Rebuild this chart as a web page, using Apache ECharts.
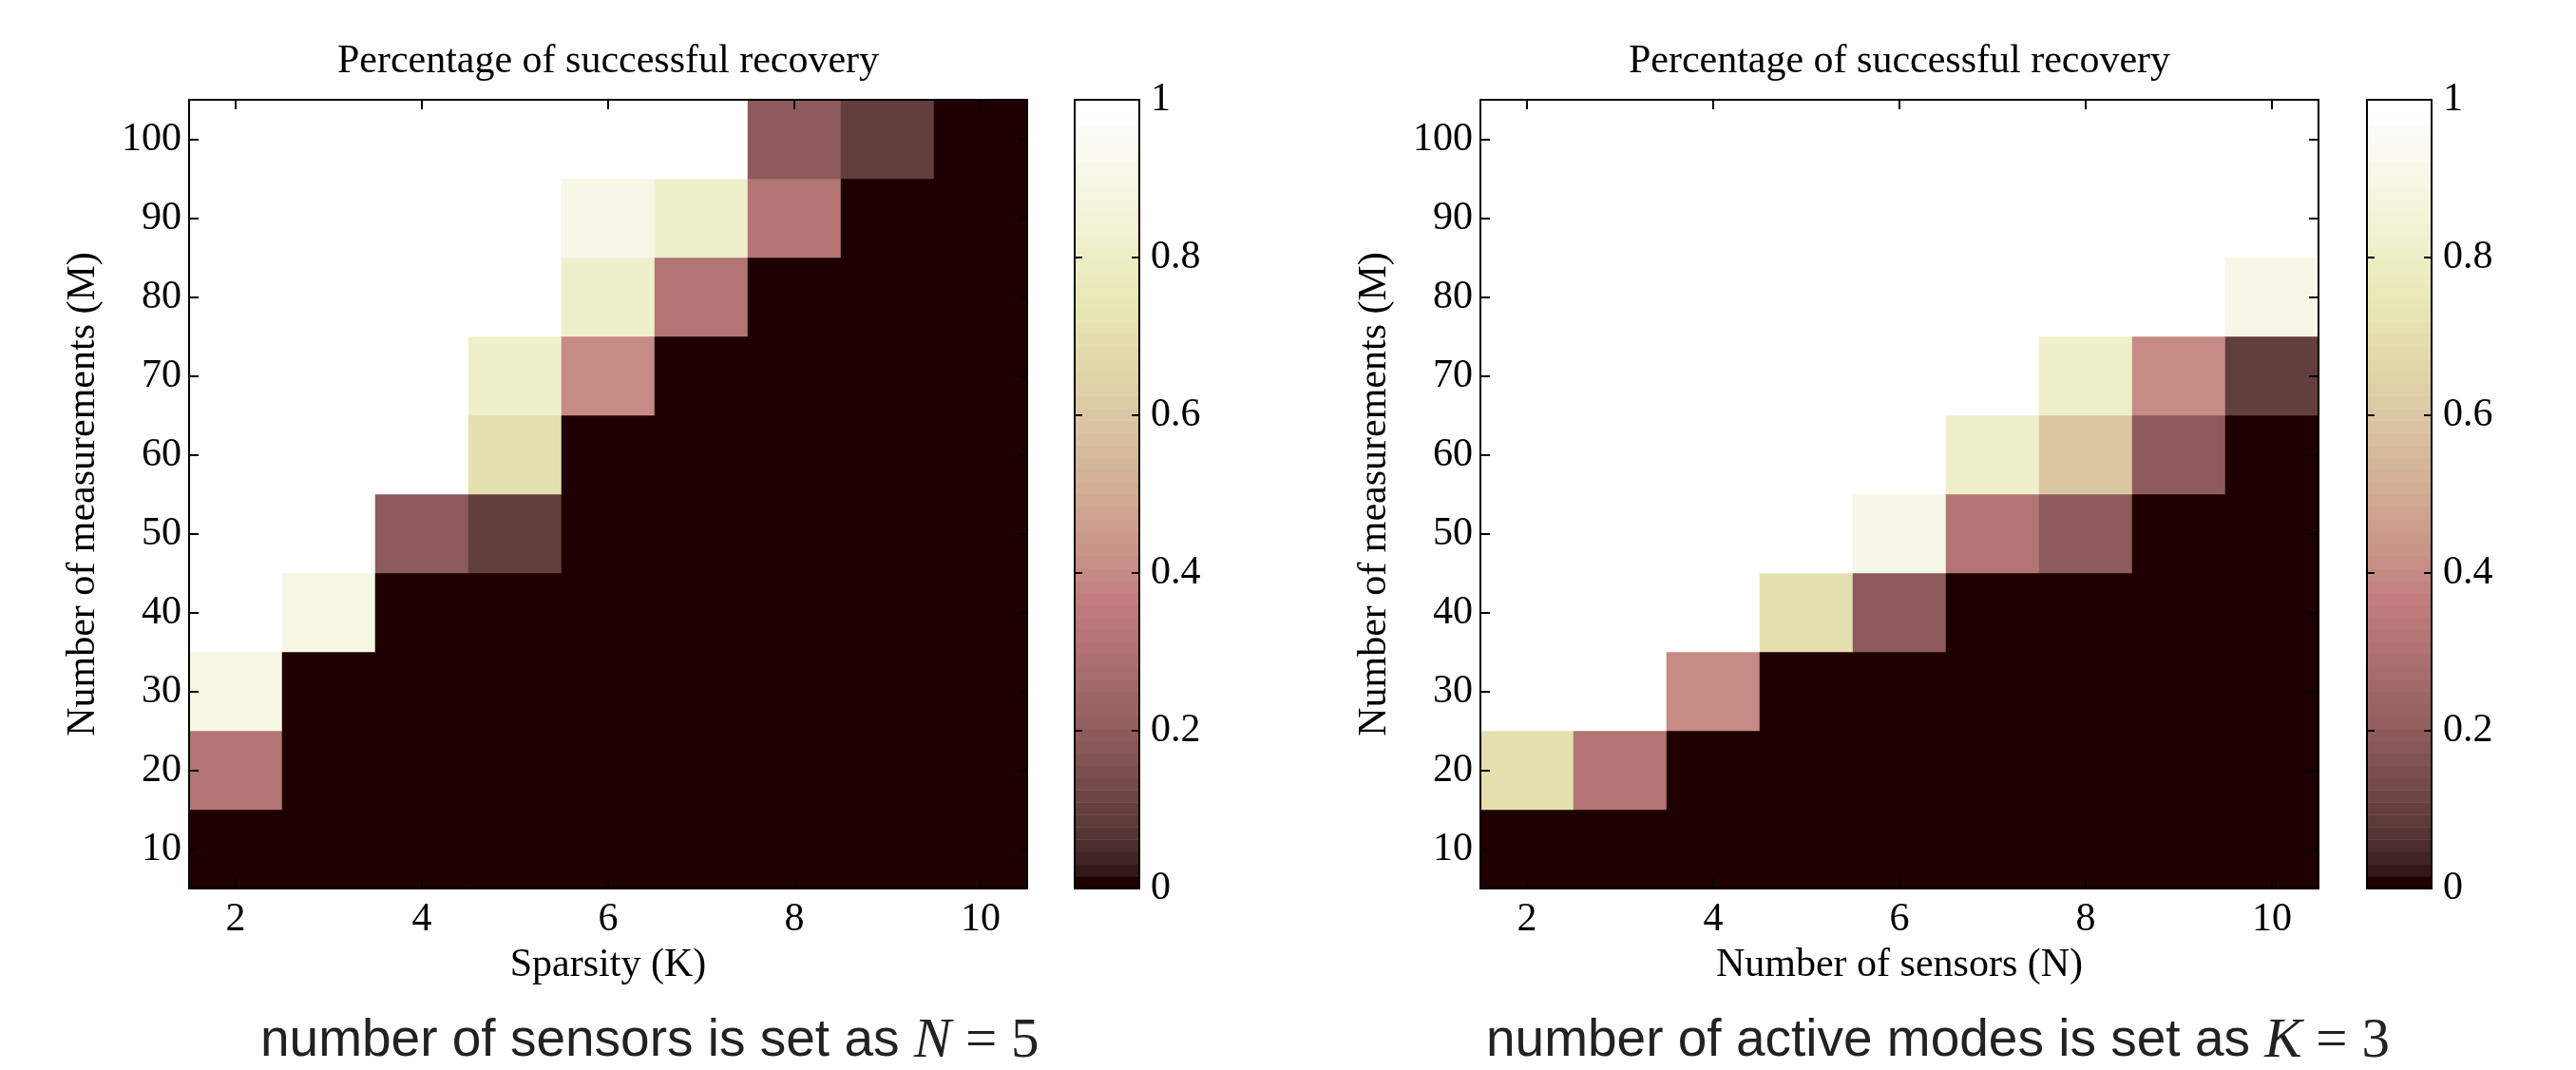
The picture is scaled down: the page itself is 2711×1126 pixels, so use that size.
<!DOCTYPE html>
<html><head><meta charset="utf-8">
<script src="https://cdn.jsdelivr.net/npm/echarts@6/dist/echarts.min.js"></script>
<style>html,body{margin:0;padding:0;background:#fff}#c{width:2711px;height:1126px}</style>
</head><body><div id="c"></div>
<script>
// ---- data ----
const xCategories = ['2','3','4','5','6','7','8','9','10'];
const yCategories = ['10','20','30','40','50','60','70','80','90','100'];
const colorbarTicks = [0, 0.2, 0.4, 0.6, 0.8, 1];
// rows from M=10 (bottom) to M=100 (top); columns K (or N) = 2..10
const sparsityRows = [
  [0,0,0,0,0,0,0,0,0],
  [0.31,0,0,0,0,0,0,0,0],
  [0.90,0,0,0,0,0,0,0,0],
  [1,0.90,0,0,0,0,0,0,0],
  [1,1,0.19,0.09,0,0,0,0,0],
  [1,1,1,0.71,0,0,0,0,0],
  [1,1,1,0.82,0.40,0,0,0,0],
  [1,1,1,1,0.82,0.31,0,0,0],
  [1,1,1,1,0.91,0.82,0.31,0,0],
  [1,1,1,1,1,1,0.19,0.09,0]
];
const sensorRows = [
  [0,0,0,0,0,0,0,0,0],
  [0.71,0.31,0,0,0,0,0,0,0],
  [1,1,0.40,0,0,0,0,0,0],
  [1,1,1,0.71,0.19,0,0,0,0],
  [1,1,1,1,0.91,0.31,0.19,0,0],
  [1,1,1,1,1,0.82,0.60,0.19,0],
  [1,1,1,1,1,1,0.82,0.40,0.09],
  [1,1,1,1,1,1,1,1,0.91],
  [1,1,1,1,1,1,1,1,1],
  [1,1,1,1,1,1,1,1,1]
];
const titleText = 'Percentage of successful recovery';
const yName = 'Number of measurements (M)';
const leftXName = 'Sparsity (K)';
const rightXName = 'Number of sensors (N)';

// ---- colormap (matplotlib "pink", 64 levels) ----
function pink(t){
  const hr = Math.min(1, 0.0416 + (1-0.0416)*t/0.365079);
  const hg = Math.min(1, Math.max(0,(t-0.365079)/(0.746032-0.365079)));
  const hb = Math.max(0,(t-0.746032)/(1-0.746032));
  const c = v => Math.round(255*Math.sqrt((2*t+v)/3));
  return 'rgb(' + c(hr) + ',' + c(hg) + ',' + c(hb) + ')';
}
const NLEV = 64;
const cmap = [];
for (let k=0;k<NLEV;k++) cmap.push(pink(k/(NLEV-1)));
const cbData = [];
for (let k=0;k<NLEV;k++) cbData.push([k/NLEV, (k+1)/NLEV, k/(NLEV-1)]);

function toHeat(rows){
  const out=[];
  rows.forEach((row,r)=>row.forEach((v,c)=>out.push([c,r,v])));
  return out;
}

const SERIF = 'Liberation Serif';
const FS = 42;
const black = '#000';
const lineW = 2;

const G = [
  {left:199, top:105, width:882, height:830},
  {left:1131, top:105, width:68, height:830},
  {left:1558, top:105, width:882, height:830},
  {left:2491, top:105, width:68, height:830}
];

function catX(grid, pos, name){
  return {
    type:'category', gridIndex:grid, position:pos, data:xCategories, z:10,
    axisLine:{show:true, onZero:false, lineStyle:{color:black,width:lineW}},
    axisTick:{show:true, inside:true, alignWithLabel:true, interval:1, length:10, lineStyle:{color:black,width:2}},
    axisLabel:{show: pos==='bottom', interval:1, margin:12, color:black, fontFamily:SERIF, fontSize:FS},
    splitLine:{show:false},
    name: name || '', nameLocation:'middle', nameGap:60,
    nameTextStyle:{color:black, fontFamily:SERIF, fontSize:FS}
  };
}
function catY(grid, pos, withName){
  return {
    type:'category', gridIndex:grid, position:pos, data:yCategories, z:10,
    axisLine:{show:true, onZero:false, lineStyle:{color:black,width:lineW}},
    axisTick:{show:true, inside:true, alignWithLabel:true, interval:0, length:10, lineStyle:{color:black,width:2}},
    axisLabel:{show: pos==='left', interval:0, margin:8, color:black, fontFamily:SERIF, fontSize:FS},
    splitLine:{show:false},
    name: withName ? yName : '', nameLocation:'middle', nameGap:90, nameRotate:90,
    nameTextStyle:{color:black, fontFamily:SERIF, fontSize:FS}
  };
}
function cbX(grid, pos){
  return {
    type:'value', gridIndex:grid, position:pos, min:0, max:1, z:10,
    axisLine:{show:true, onZero:false, lineStyle:{color:black,width:lineW}},
    axisTick:{show:false}, axisLabel:{show:false}, splitLine:{show:false}
  };
}
function cbY(grid, pos){
  return {
    type:'value', gridIndex:grid, position:pos, min:0, max:1, interval:0.2, z:10,
    axisLine:{show:true, onZero:false, lineStyle:{color:black,width:lineW}},
    axisTick:{show:true, inside:true, length:8, lineStyle:{color:black,width:2}},
    axisLabel:{show: pos==='right', margin:12, color:black, fontFamily:SERIF, fontSize:FS,
      formatter: v => { const t = colorbarTicks.find(x=>Math.abs(x-v)<1e-6); return t===0?'0':t===1?'1':String(t); }},
    splitLine:{show:false}
  };
}
function cbSeries(xi, yi){
  return {
    type:'custom', xAxisIndex:xi, yAxisIndex:yi, data:cbData, silent:true,
    encode:{x:0, y:1},
    renderItem:(params, api)=>{
      const p0 = api.coord([0, api.value(0)]);
      const p1 = api.coord([1, api.value(1)]);
      return {type:'rect', shape:{x:p0[0], y:p1[1], width:p1[0]-p0[0], height:p0[1]-p1[1]+0.6},
        style:{fill: api.visual('color')}};
    }
  };
}

const capRich = {
  a:{fontFamily:'Liberation Sans', fontSize:55, fill:'#222'},
  m:{fontFamily:SERIF, fontStyle:'italic', fontSize:59, fill:'#222'},
  r:{fontFamily:SERIF, fontSize:59, fill:'#222'}
};

const chart = echarts.init(document.getElementById('c'), null, {renderer:'canvas'});
chart.setOption({
  backgroundColor:'#fff',
  animation:false,
  grid: G,
  xAxis: [catX(0,'bottom',leftXName), catX(0,'top'), cbX(1,'bottom'), cbX(1,'top'),
          catX(2,'bottom',rightXName), catX(2,'top'), cbX(3,'bottom'), cbX(3,'top')],
  yAxis: [catY(0,'left',true), catY(0,'right',false), cbY(1,'left'), cbY(1,'right'),
          catY(2,'left',true), catY(2,'right',false), cbY(3,'left'), cbY(3,'right')],
  visualMap: [{type:'continuous', show:false, min:0, max:1, dimension:2, seriesIndex:[0,1,2,3],
    inRange:{color:cmap}}],
  series: [
    {type:'heatmap', xAxisIndex:0, yAxisIndex:0, data:toHeat(sparsityRows), silent:true},
    cbSeries(2,2),
    {type:'heatmap', xAxisIndex:4, yAxisIndex:4, data:toHeat(sensorRows), silent:true},
    cbSeries(6,6)
  ],
  graphic: [
    {type:'text', x:640, y:65, style:{text:titleText, align:'center', verticalAlign:'middle',
      fontFamily:SERIF, fontSize:FS, fill:black}},
    {type:'text', x:1999, y:65, style:{text:titleText, align:'center', verticalAlign:'middle',
      fontFamily:SERIF, fontSize:FS, fill:black}},
    {type:'text', x:274, y:1096, style:{text:'{a|number of sensors is set as }{m|N}{r| = 5}',
      align:'left', verticalAlign:'middle', rich:capRich}},
    {type:'text', x:1564, y:1096, style:{text:'{a|number of active modes is set as }{m|K}{r| = 3}',
      align:'left', verticalAlign:'middle', rich:capRich}}
  ]
});
</script></body></html>
